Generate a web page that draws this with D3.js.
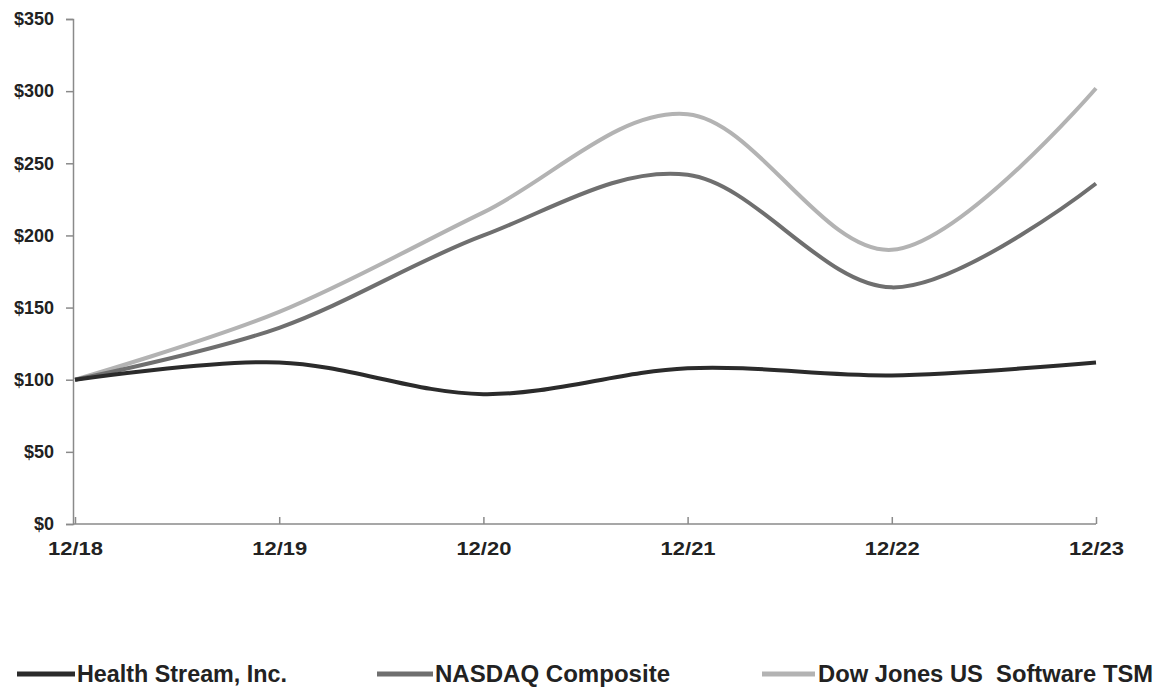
<!DOCTYPE html>
<html>
<head>
<meta charset="utf-8">
<script src="https://cdn.jsdelivr.net/npm/d3@7"></script>
<style>
  html, body { margin: 0; padding: 0; background: #fff; }
  svg { display: block; }
</style>
</head>
<body>
<svg id="chart" width="1157" height="690"></svg>
<script>
const categories = ["12/18", "12/19", "12/20", "12/21", "12/22", "12/23"];
const healthStream = [100, 112, 90, 108, 103, 112];
const nasdaq = [100, 136, 200, 242, 164, 236];
const dowJonesSoftware = [100, 147, 216, 284, 190, 302];
const yTicks = [0, 50, 100, 150, 200, 250, 300, 350];
const seriesNames = ["Health Stream, Inc.", "NASDAQ Composite", "Dow Jones US  Software TSM"];

const series = [
  { name: seriesNames[0], values: healthStream, color: "#2b2b2b" },
  { name: seriesNames[1], values: nasdaq, color: "#6f6f6f" },
  { name: seriesNames[2], values: dowJonesSoftware, color: "#b3b3b3" }
];

const svg = d3.select("#chart");
const x = d3.scalePoint().domain(categories).range([75, 1096]);
const y = d3.scaleLinear().domain([0, 350]).range([524, 19]);

// Y axis
const yAxis = svg.append("g").attr("transform", "translate(73,0)")
  .call(d3.axisLeft(y).tickValues(yTicks).tickSize(7).tickPadding(12).tickFormat(d => "$" + d));
yAxis.select(".domain").attr("stroke", "#8a8a8a").attr("stroke-width", 1.5);
yAxis.selectAll(".tick line").attr("stroke", "#8a8a8a").attr("stroke-width", 1.5);
yAxis.selectAll(".tick text")
  .attr("font-family", "'Liberation Sans', Arial, sans-serif")
  .attr("font-weight", "bold").attr("font-size", 18).attr("fill", "#222");

// X axis
const xAxis = svg.append("g").attr("transform", "translate(0,524)")
  .call(d3.axisBottom(x).tickSize(-7).tickSizeOuter(0).tickPadding(18));
xAxis.select(".domain").attr("stroke", "#8a8a8a").attr("stroke-width", 1.5)
  .attr("d", "M73,0H1096");
xAxis.selectAll(".tick line").attr("stroke", "#8a8a8a").attr("stroke-width", 1.5);
xAxis.selectAll(".tick text")
  .attr("font-family", "'Liberation Sans', Arial, sans-serif")
  .attr("font-weight", "bold").attr("font-size", 18).attr("fill", "#222")
  .attr("textLength", 55).attr("lengthAdjust", "spacingAndGlyphs");

// Lines
const line = d3.line()
  .x((d, i) => x(categories[i]))
  .y(d => y(d))
  .curve(d3.curveCatmullRom.alpha(0));

[...series].reverse().forEach(s => {
  svg.append("path")
    .datum(s.values)
    .attr("d", line)
    .attr("fill", "none")
    .attr("stroke", s.color)
    .attr("stroke-width", 4)
    .attr("stroke-linecap", "butt");
});

// Legend
const legendPos = [
  { x1: 17, x2: 75, tx: 77, tw: 210 },
  { x1: 377, x2: 433, tx: 435, tw: 235 },
  { x1: 762, x2: 815, tx: 818, tw: 335 }
];
series.forEach((s, i) => {
  const p = legendPos[i];
  svg.append("line")
    .attr("x1", p.x1).attr("x2", p.x2)
    .attr("y1", 674).attr("y2", 674)
    .attr("stroke", s.color).attr("stroke-width", 5);
  svg.append("text")
    .attr("x", p.tx).attr("y", 682)
    .attr("font-family", "'Liberation Sans Narrow', 'Arial Narrow', 'Liberation Sans', Arial, sans-serif")
    .attr("font-weight", "bold").attr("font-size", 23).attr("fill", "#222")
    .attr("textLength", p.tw).attr("lengthAdjust", "spacingAndGlyphs")
    .style("white-space", "pre")
    .text(s.name);
});
</script>
</body>
</html>
